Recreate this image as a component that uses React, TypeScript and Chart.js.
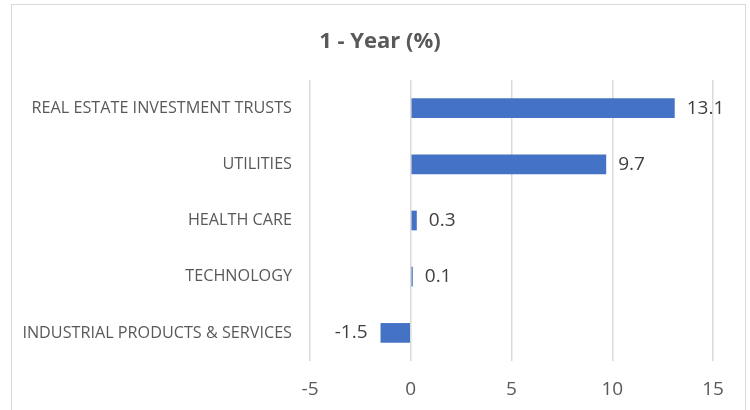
import React, { useEffect, useRef } from "react";
import { Chart, registerables } from "chart.js";

Chart.register(...registerables);

const categories = [
  "REAL ESTATE INVESTMENT TRUSTS",
  "UTILITIES",
  "HEALTH CARE",
  "TECHNOLOGY",
  "INDUSTRIAL PRODUCTS & SERVICES",
];
const values = [13.1, 9.7, 0.3, 0.1, -1.5];
const xMin = -5;
const xMax = 15;
const xStep = 5;
const title = "1 - Year (%)";

const FONT = '"Open Sans", sans-serif';

const framePlugin = {
  id: "frame",
  beforeDraw(chart: any) {
    const ctx = chart.ctx;
    ctx.save();
    ctx.fillStyle = "#ffffff";
    ctx.fillRect(0, 0, chart.width, chart.height);
    ctx.strokeStyle = "#d9d9d9";
    ctx.lineWidth = 1;
    ctx.strokeRect(11.5, 4.5, 734, 430);
    ctx.fillStyle = "#595959";
    ctx.font = `bold 22px ${FONT}`;
    ctx.textAlign = "center";
    ctx.textBaseline = "middle";
    ctx.fillText(title, 380, 42);
    ctx.restore();
  },
};

const labelPlugin = {
  id: "valueLabels",
  afterDatasetsDraw(chart: any) {
    const ctx = chart.ctx;
    const meta = chart.getDatasetMeta(0);
    ctx.save();
    ctx.fillStyle = "#404040";
    ctx.font = `19px ${FONT}`;
    ctx.textBaseline = "middle";
    meta.data.forEach((bar: any, i: number) => {
      const v = values[i];
      const txt = v.toFixed(1);
      if (v >= 0) {
        ctx.textAlign = "left";
        ctx.fillText(txt, bar.x + 12, bar.y);
      } else {
        ctx.textAlign = "right";
        ctx.fillText(txt, bar.x - 13, bar.y);
      }
    });
    ctx.restore();
  },
};

export default function App() {
  const ref = useRef<HTMLCanvasElement | null>(null);
  useEffect(() => {
    document.body.style.margin = "0";
    if (!ref.current) return;
    const chart = new Chart(ref.current, {
      type: "bar",
      data: {
        labels: categories,
        datasets: [
          {
            data: values,
            backgroundColor: "#4472C4",
            borderWidth: 0,
            categoryPercentage: 1,
            barPercentage: 0.35,
          },
        ],
      },
      options: {
        indexAxis: "y",
        animation: false,
        responsive: false,
        maintainAspectRatio: false,
        layout: { padding: { left: 0, right: 37, top: 80, bottom: 0 } },
        plugins: {
          legend: { display: false },
          title: { display: false },
          tooltip: { enabled: false },
        },
        scales: {
          x: {
            min: xMin,
            max: xMax,
            ticks: {
              stepSize: xStep,
              color: "#595959",
              font: { family: FONT, size: 19 },
              padding: 17,
              maxRotation: 0,
            },
            grid: { color: "#d9d9d9", lineWidth: 1.5, drawTicks: false },
            border: { display: false },
            afterFit(scale: any) {
              scale.height = 49;
            },
          },
          y: {
            ticks: {
              color: "#595959",
              font: { family: FONT, size: 16.2 },
              padding: 18,
            },
            grid: { display: false, drawTicks: false },
            border: { display: false },
            afterFit(scale: any) {
              scale.width = 310;
            },
          },
        },
      },
      plugins: [framePlugin, labelPlugin],
    } as any);
    return () => chart.destroy();
  }, []);
  return (
    <div style={{ width: 750, height: 410 }}>
      <canvas ref={ref} width={750} height={410} style={{ display: "block" }} />
    </div>
  );
}
